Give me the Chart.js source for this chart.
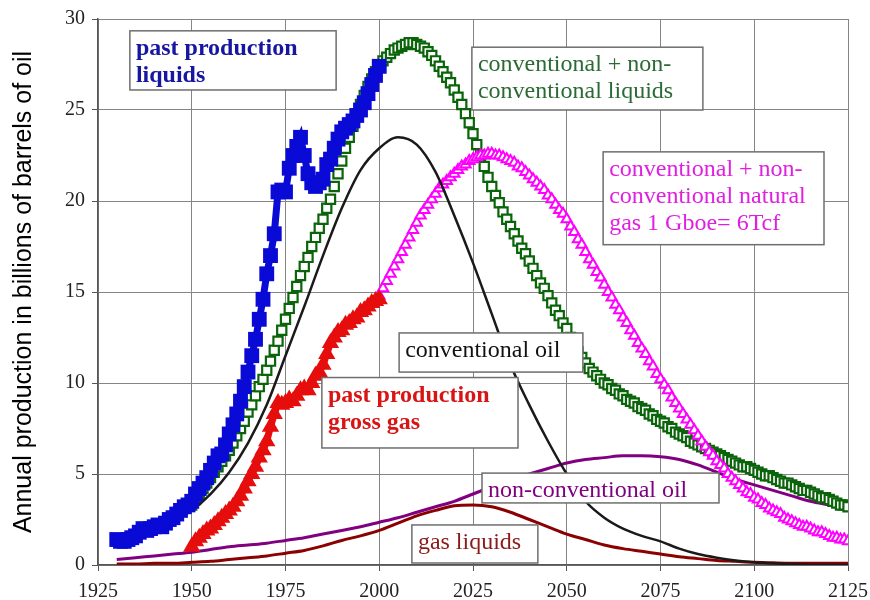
<!DOCTYPE html>
<html>
<head>
<meta charset="utf-8">
<script src="https://cdn.jsdelivr.net/npm/chart.js@4.4.1/dist/chart.umd.min.js"></script>
<style>
  html, body { margin: 0; padding: 0; background: #fff; }
  canvas { display: block; }
</style>
</head>
<body>
<canvas id="chart" width="870" height="600"></canvas>
<script>
// Axis ticks
const yearTicks = [1925, 1950, 1975, 2000, 2025, 2050, 2075, 2100, 2125];
const valueTicks = [0, 5, 10, 15, 20, 25, 30];

// Past production of liquids, yearly from 1930 (Gb/yr)
const pastLiquidsStart = 1930;
const pastLiquids = [
  1.4, 1.3, 1.3, 1.4, 1.5, 1.6, 1.8, 2.0, 1.9, 2.0,
  2.1, 2.2, 2.1, 2.3, 2.5, 2.6, 2.8, 3.0, 3.2, 3.3,
  3.5, 3.9, 4.2, 4.5, 4.8, 5.2, 5.6, 6.0, 6.1, 6.6,
  7.2, 7.7, 8.3, 9.0, 9.8, 10.6, 11.5, 12.4, 13.5, 14.6,
  16.0, 17.0, 18.2, 20.5, 20.6, 20.5, 21.8, 22.5, 23.0, 23.5,
  22.5, 21.5, 21.0, 20.8, 21.0, 21.2, 22.0, 22.3, 22.9, 23.4,
  23.8, 24.0, 24.2, 24.4, 24.7, 25.0, 25.4, 25.9, 26.4, 26.9,
  27.4
];

// Past production of gross gas, yearly from 1950 (Gboe/yr)
const pastGasStart = 1950;
const pastGas = [
  1.0, 1.3, 1.5, 1.7, 1.9, 2.0, 2.2, 2.4, 2.6, 2.8,
  3.0, 3.2, 3.5, 3.8, 4.2, 4.6, 5.0, 5.4, 5.9, 6.3,
  6.8, 7.6, 8.3, 8.9, 8.8, 8.9, 9.1, 9.0, 9.3, 9.6,
  9.7, 9.6, 10.0, 10.4, 10.6, 11.0, 11.6, 12.2, 12.5, 12.8,
  12.9, 13.2, 13.3, 13.5, 13.6, 13.9, 14.0, 14.2, 14.4, 14.5,
  14.6
];

// Conventional + non-conventional liquids, yearly from 1950
const allLiquidsStart = 1950;
const allLiquids = [
  3.3, 3.6, 3.9, 4.2, 4.5, 4.8, 5.1, 5.4, 5.7, 6.0,
  6.3, 6.7, 7.1, 7.5, 7.9, 8.4, 8.8, 9.3, 9.8, 10.2,
  10.7, 11.2, 11.8, 12.3, 12.9, 13.5, 14.1, 14.7, 15.3, 15.9,
  16.4, 16.9, 17.5, 18.0, 18.5, 19.0, 19.6, 20.1, 20.8, 21.5,
  22.2, 22.9, 23.5, 24.1, 24.7, 25.3, 25.8, 26.3, 26.7, 27.1,
  27.4, 27.7, 27.9, 28.1, 28.3, 28.4, 28.5, 28.6, 28.7, 28.7,
  28.6, 28.5, 28.4, 28.2, 28.0, 27.7, 27.4, 27.1, 26.8, 26.5,
  26.1, 25.7, 25.3, 24.8, 24.3, 23.7, 23.1, 22.5, 21.9, 21.3,
  20.8, 20.3, 19.9, 19.4, 19.0, 18.6, 18.2, 17.8, 17.4, 17.1,
  16.7, 16.3, 15.9, 15.5, 15.2, 14.8, 14.4, 14.0, 13.7, 13.3,
  13.0, 12.5, 12.1, 11.7, 11.4, 11.1, 10.8, 10.6, 10.4, 10.2,
  10.0, 9.9, 9.7, 9.6, 9.4, 9.3, 9.1, 9.0, 8.9, 8.7,
  8.6, 8.5, 8.3, 8.2, 8.0, 7.9, 7.8, 7.6, 7.5, 7.3,
  7.2, 7.1, 7.0, 6.8, 6.7, 6.6, 6.5, 6.4, 6.3, 6.2,
  6.1, 6.0, 5.9, 5.8, 5.7, 5.6, 5.5, 5.4, 5.4, 5.3,
  5.2, 5.1, 5.0, 4.9, 4.9, 4.8, 4.7, 4.6, 4.5, 4.5,
  4.4, 4.3, 4.2, 4.1, 4.1, 4.0, 3.9, 3.8, 3.7, 3.7,
  3.6, 3.5, 3.4, 3.3, 3.3, 3.2
];

// Conventional + non-conventional natural gas, yearly from 2000 (Gboe/yr)
const allGasStart = 2000;
const allGas = [
  14.8, 15.2, 15.6, 16.0, 16.4, 16.8, 17.2, 17.6, 18.0, 18.4,
  18.8, 19.2, 19.5, 19.8, 20.1, 20.4, 20.7, 20.9, 21.1, 21.3,
  21.5, 21.7, 21.9, 22.0, 22.2, 22.3, 22.4, 22.5, 22.5, 22.6,
  22.6, 22.5, 22.5, 22.4, 22.3, 22.2, 22.1, 21.9, 21.8, 21.6,
  21.4, 21.2, 21.0, 20.8, 20.6, 20.3, 20.1, 19.8, 19.5, 19.3,
  19.0, 18.6, 18.3, 17.9, 17.6, 17.2, 16.8, 16.5, 16.1, 15.8,
  15.4, 15.0, 14.7, 14.3, 14.0, 13.6, 13.3, 12.9, 12.6, 12.2,
  11.9, 11.6, 11.2, 10.9, 10.5, 10.2, 9.9, 9.6, 9.2, 8.9,
  8.6, 8.3, 8.0, 7.7, 7.4, 7.1, 6.8, 6.5, 6.2, 6.0,
  5.7, 5.5, 5.3, 5.0, 4.8, 4.6, 4.4, 4.2, 4.0, 3.9,
  3.7, 3.6, 3.4, 3.3, 3.1, 3.0, 2.9, 2.8, 2.6, 2.5,
  2.4, 2.3, 2.2, 2.1, 2.1, 2.0, 1.9, 1.8, 1.8, 1.7,
  1.6, 1.5, 1.5, 1.4, 1.4, 1.3
];

// Five-yearly series from 1930
const lineStart = 1930;
const lineStep = 5;
const conventionalOil = [
  1.3, 1.5, 1.9, 2.4, 3.0, 3.9, 5.1, 6.7, 8.8, 11.5,
  14.2, 17.0, 19.6, 21.7, 22.9, 23.5, 23.1, 21.6, 19.2, 16.6,
  13.8, 11.0, 8.8, 6.8, 5.0, 3.5, 2.6, 2.0, 1.6, 1.3,
  0.9, 0.6, 0.4, 0.25, 0.15, 0.1, 0.05, 0.02, 0.01, 0
];
const nonConventionalOil = [
  0.3, 0.4, 0.5, 0.6, 0.7, 0.85, 1.0, 1.1, 1.2, 1.35,
  1.5, 1.7, 1.9, 2.1, 2.35, 2.6, 2.9, 3.2, 3.5, 3.9,
  4.3, 4.7, 5.0, 5.3, 5.6, 5.8, 5.9, 6.0, 6.0, 5.95,
  5.8, 5.5, 5.1, 4.7, 4.4, 4.1, 3.8, 3.5, 3.3, 3.1
];
const gasLiquids = [
  0.05, 0.05, 0.1, 0.1, 0.15, 0.2, 0.3, 0.4, 0.5, 0.65,
  0.8, 1.05, 1.35, 1.6, 1.9, 2.3, 2.7, 3.0, 3.25, 3.3,
  3.2, 2.9, 2.5, 2.1, 1.7, 1.4, 1.1, 0.9, 0.75, 0.6,
  0.45, 0.35, 0.25, 0.2, 0.15, 0.12, 0.1, 0.1, 0.1, 0.1
];

const toPoints = (start, step, values) => values.map((v, i) => ({ x: start + i * step, y: v }));

// Boxed captions, placed in axis units (years, Gb/yr)
const captions = [
  { lines: ['past production', 'liquids'], color: '#1616a0', bold: true, box: [1933.5, 29.35, 1988.5, 26.1] },
  { lines: ['conventional + non-', 'conventional liquids'], color: '#2b6a35', bold: false, box: [2024.7, 28.45, 2086.3, 25.0] },
  { lines: ['conventional + non-', 'conventional natural', 'gas 1 Gboe= 6Tcf'], color: '#e020e0', bold: false, box: [2059.7, 22.7, 2118.6, 17.6] },
  { lines: ['conventional oil'], color: '#111111', bold: false, box: [2005.3, 12.75, 2054.3, 10.6] },
  { lines: ['past production', 'gross gas'], color: '#d81414', bold: true, box: [1984.7, 10.3, 2037.0, 6.43] },
  { lines: ['non-conventional oil'], color: '#800080', bold: false, box: [2027.4, 5.05, 2090.6, 3.41] },
  { lines: ['gas liquids'], color: '#8b1a1a', bold: false, box: [2008.7, 2.2, 2042.3, 0.11] }
];

const captionPlugin = {
  id: 'captions',
  afterDatasetsDraw(chart) {
    const { ctx, scales: { x, y } } = chart;
    ctx.save();
    captions.forEach(c => {
      const x1 = x.getPixelForValue(c.box[0]);
      const y1 = y.getPixelForValue(c.box[1]);
      const x2 = x.getPixelForValue(c.box[2]);
      const y2 = y.getPixelForValue(c.box[3]);
      ctx.fillStyle = '#ffffff';
      ctx.fillRect(x1, y1, x2 - x1, y2 - y1);
      ctx.strokeStyle = '#6e6e6e';
      ctx.lineWidth = 1.5;
      ctx.strokeRect(x1, y1, x2 - x1, y2 - y1);
      ctx.fillStyle = c.color;
      ctx.font = (c.bold ? 'bold ' : '') + '24px "Liberation Serif", "Times New Roman", serif';
      ctx.textAlign = 'left';
      ctx.textBaseline = 'alphabetic';
      c.lines.forEach((t, i) => ctx.fillText(t, x1 + 6, y1 + 24 + i * 27));
    });
    ctx.restore();
  }
};

const serif = '"Liberation Serif", "Times New Roman", serif';

new Chart(document.getElementById('chart'), {
  type: 'scatter',
  data: {
    datasets: [
      {
        label: 'past production liquids',
        data: toPoints(pastLiquidsStart, 1, pastLiquids),
        pointStyle: 'rect', pointRadius: 10.5, pointBorderWidth: 0,
        pointBackgroundColor: '#0a0ad6', borderColor: '#0a0ad6', borderWidth: 7,
        showLine: true, tension: 0
      },
      {
        label: 'past production gross gas',
        data: toPoints(pastGasStart, 1, pastGas),
        pointStyle: 'triangle', pointRadius: 10, pointBorderWidth: 0,
        pointBackgroundColor: '#e60d0d', borderColor: '#e60d0d', borderWidth: 7,
        showLine: true, tension: 0
      },
      {
        label: 'conventional oil',
        data: toPoints(lineStart, lineStep, conventionalOil),
        showLine: true, pointRadius: 0, borderColor: '#1a1a1a', borderWidth: 2.5,
        cubicInterpolationMode: 'monotone'
      },
      {
        label: 'conventional + non-conventional natural gas',
        data: toPoints(allGasStart, 1, allGas),
        pointStyle: 'triangle', pointRadius: 6, borderWidth: 2,
        backgroundColor: '#ffffff', borderColor: '#ff00ff', showLine: false
      },
      {
        label: 'conventional + non-conventional liquids',
        data: toPoints(allLiquidsStart, 1, allLiquids),
        pointStyle: 'rect', pointRadius: 6.5, borderWidth: 2.2,
        backgroundColor: '#ffffff', borderColor: '#0a640a', showLine: false
      },
      {
        label: 'non-conventional oil',
        data: toPoints(lineStart, lineStep, nonConventionalOil),
        showLine: true, pointRadius: 0, borderColor: '#800080', borderWidth: 3,
        cubicInterpolationMode: 'monotone'
      },
      {
        label: 'gas liquids',
        data: toPoints(lineStart, lineStep, gasLiquids),
        showLine: true, pointRadius: 0, borderColor: '#8b0000', borderWidth: 3,
        cubicInterpolationMode: 'monotone'
      }
    ]
  },
  options: {
    responsive: false,
    animation: false,
    devicePixelRatio: 1,
    layout: { autoPadding: false, padding: { left: 0, right: 22, top: 19, bottom: 0 } },
    plugins: { legend: { display: false }, tooltip: { enabled: false } },
    scales: {
      x: {
        type: 'linear', min: 1925, max: 2125,
        afterBuildTicks: s => { s.ticks = yearTicks.map(v => ({ value: v })); },
        afterFit: s => { s.height = 35; s.paddingLeft = 0; s.paddingRight = 0; },
        ticks: { callback: v => String(v), color: '#222', padding: 9, maxRotation: 0,
                 font: { family: serif, size: 20 } },
        grid: { color: '#858585', lineWidth: 1, tickLength: 6, tickColor: '#555' },
        border: { color: '#555', width: 1.5 }
      },
      y: {
        type: 'linear', min: 0, max: 30,
        afterBuildTicks: s => { s.ticks = valueTicks.map(v => ({ value: v })); },
        afterFit: s => { s.width = 98; s.paddingTop = 0; s.paddingBottom = 0; },
        ticks: { callback: v => String(v), color: '#222', padding: 7,
                 font: { family: serif, size: 20 } },
        grid: { color: '#858585', lineWidth: 1, tickLength: 6, tickColor: '#555' },
        border: { color: '#555', width: 1.5 },
        title: {
          display: true,
          text: 'Annual production in billions of barrels of oil',
          color: '#000',
          font: { family: '"Liberation Sans", Arial, sans-serif', size: 25 },
          padding: { top: 9, bottom: 0 }
        }
      }
    }
  },
  plugins: [captionPlugin]
});
</script>
</body>
</html>
